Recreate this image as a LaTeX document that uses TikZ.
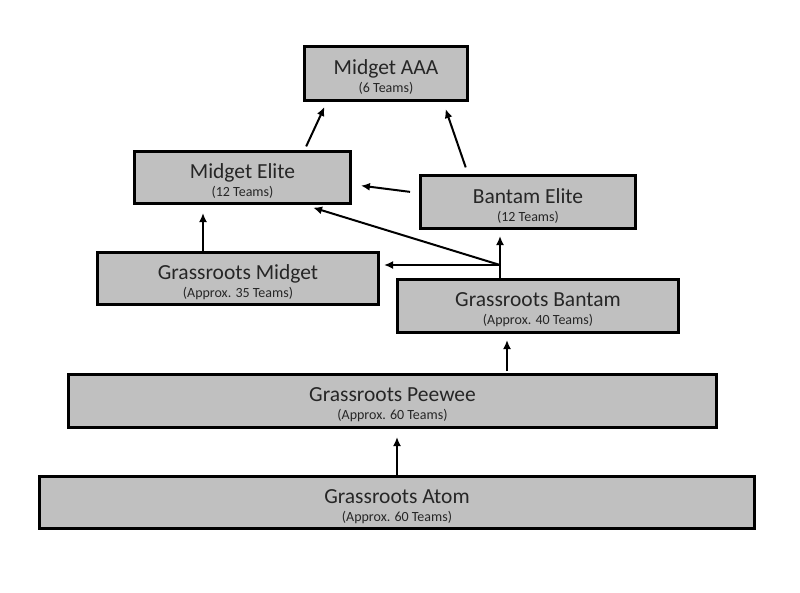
\documentclass[tikz,border=0pt]{standalone}
\usepackage{fontspec}
\setmainfont{Carlito}
\usepackage{tikz}
\usetikzlibrary{arrows.meta}
\tikzset{
    tier/.style={
      rectangle,
           draw=black, line width=3pt,
           fill=tiergray,
           inner sep=0pt,
           text centered,
           align=center,
           text=black!85,
           font=\fontsize{21.5}{18}\selectfont,
           },
}
\tikzset{
    up/.style={
      ->, line width=2pt,
           >={Latex[length=9pt,width=8pt]},
           },
}
\definecolor{tiergray}{RGB}{192,192,192}
\newcommand{\tiername}[2]{\rule{0pt}{22pt}#1\\{\fontsize{14}{18}\selectfont #2}}

\begin{document}
\begin{tikzpicture}[x=1pt,y=-1pt]
\useasboundingbox (0,0) rectangle (800,592);

\node[tier,minimum width=163pt,minimum height=54pt] (aaa) at (386,73) {\tiername{Midget AAA}{(6 Teams)}};

\node[tier,minimum width=216pt,minimum height=52pt] (me) at (242.5,177.5) {\tiername{Midget Elite}{(12 Teams)}};
\node[tier,minimum width=215pt,minimum height=53pt] (be) at (528,202) {\tiername{Bantam Elite}{(12 Teams)}};

\node[tier,minimum width=281pt,minimum height=52pt] (gm) at (238,278.5) {\tiername{Grassroots Midget}{(Approx. 35 Teams)}};
\node[tier,minimum width=281pt,minimum height=53pt] (gb) at (538,306) {\tiername{Grassroots Bantam}{(Approx. 40 Teams)}};

\node[tier,minimum width=648pt,minimum height=53pt] (gp) at (392.5,401) {\tiername{Grassroots Peewee}{(Approx. 60 Teams)}};
\node[tier,minimum width=715pt,minimum height=52pt] (ga) at (397,502.5) {\tiername{Grassroots Atom}{(Approx. 60 Teams)}};

% elite to AAA
\draw[up,shorten <=4pt,shorten >=6pt] ([xshift=62pt]me.north) -- ([xshift=-59pt]aaa.south);
\draw[up,shorten <=7pt,shorten >=8pt] ([xshift=-60pt]be.north) -- ([xshift=57pt]aaa.south);
\draw[up,shorten <=9pt,shorten >=9pt] ([yshift=9pt]be.west) -- ([yshift=-7pt]me.east);

% bantam split
\coordinate (split) at ([xshift=-38pt,yshift=13pt]gb.north);
\draw[line width=2pt] ([xshift=-38pt]gb.north) -- (split);
\draw[up,shorten >=6pt] (split) -- (split |- be.south);
\draw[up,shorten >=4pt] (split) -- (split -| gm.east);
\draw[up,shorten >=9pt] (split) -- ([xshift=62pt]me.south);

% straight up
\draw[up,shorten >=8pt] ([xshift=-35pt]gm.north) -- ([xshift=-35pt]gm.north |- me.south);
\draw[up,shorten <=2pt,shorten >=6pt] ([xshift=-31pt]gb.south |- gp.north) -- ([xshift=-31pt]gb.south);
\draw[up,shorten >=8pt] (ga.north) -- (ga.north |- gp.south);

\end{tikzpicture}
\end{document}
